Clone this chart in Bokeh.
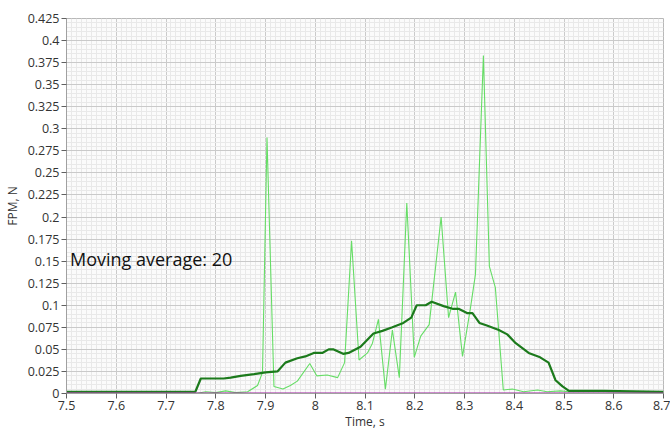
import numpy as np
from bokeh.plotting import figure
from bokeh.models import FixedTicker, CustomJSTickFormatter, Label
from bokeh.embed import file_html
from bokeh.resources import INLINE

# raw force signal (light green)
raw_t = [7.50, 7.76, 7.78, 7.80, 7.82, 7.84, 7.864, 7.884, 7.894, 7.903, 7.917, 7.935, 7.95, 7.964,
         7.989, 8.003, 8.024, 8.045, 8.059, 8.073, 8.088, 8.105, 8.115, 8.127, 8.141, 8.155, 8.169,
         8.184, 8.199, 8.212, 8.229, 8.253, 8.268, 8.282, 8.296, 8.312, 8.322, 8.338, 8.35, 8.362,
         8.378, 8.396, 8.419, 8.447, 8.466, 8.493, 8.51, 8.58, 8.7]
raw_v = [0.0, 0.0, 0.002, 0.001, 0.003, 0.001, 0.002, 0.009, 0.024, 0.29, 0.008, 0.005, 0.009, 0.014,
         0.034, 0.02, 0.021, 0.018, 0.035, 0.173, 0.038, 0.046, 0.057, 0.084, 0.005, 0.072, 0.018,
         0.216, 0.041, 0.065, 0.078, 0.2, 0.086, 0.115, 0.042, 0.097, 0.135, 0.383, 0.144, 0.12,
         0.004, 0.005, 0.002, 0.004, 0.002, 0.003, 0.002, 0.002, 0.001]

# moving average 20 (dark green)
avg_t = [7.50, 7.759, 7.77, 7.816, 7.83, 7.85, 7.877, 7.90, 7.924, 7.94, 7.964, 7.98, 7.997, 8.014,
         8.027, 8.037, 8.056, 8.067, 8.091, 8.117, 8.135, 8.155, 8.177, 8.193, 8.204, 8.222, 8.234,
         8.258, 8.276, 8.288, 8.306, 8.316, 8.33, 8.345, 8.369, 8.386, 8.403, 8.429, 8.452, 8.469,
         8.483, 8.497, 8.51, 8.58, 8.7]
avg_v = [0.002, 0.002, 0.017, 0.017, 0.018, 0.02, 0.022, 0.024, 0.025, 0.035, 0.04, 0.042, 0.046, 0.046,
         0.05, 0.05, 0.045, 0.046, 0.053, 0.068, 0.071, 0.075, 0.08, 0.086, 0.1, 0.1, 0.104,
         0.099, 0.096, 0.096, 0.091, 0.091, 0.08, 0.077, 0.072, 0.067, 0.057, 0.046, 0.041, 0.035,
         0.015, 0.008, 0.003, 0.003, 0.002]

# baseline series (purple)
base_t = [7.5, 8.7]
base_v = [0.0, 0.0]

x_ticks = [7.5, 7.6, 7.7, 7.8, 7.9, 8.0, 8.1, 8.2, 8.3, 8.4, 8.5, 8.6, 8.7]
y_ticks = [0, 0.025, 0.05, 0.075, 0.1, 0.125, 0.15, 0.175, 0.2, 0.225, 0.25, 0.275, 0.3,
           0.325, 0.35, 0.375, 0.4, 0.425]
annotation = "Moving average: 20"
x_title = "Time, s"
y_title = "FPM, N"

FONT = "Open Sans"

p = figure(width=670, height=432, x_range=(7.5, 8.7), y_range=(0, 0.425),
           output_backend="svg", toolbar_location=None,
           min_border_left=66, min_border_right=7, min_border_top=18, min_border_bottom=38,
           background_fill_color="#fbfbfb", border_fill_color="white")
p.outline_line_color = "#b8b8b8"

x_minor = np.round(np.arange(7.5, 8.7001, 0.01), 3).tolist()
y_minor = np.round(np.arange(0, 0.42501, 0.005), 4).tolist()
p.xaxis.ticker = FixedTicker(ticks=x_ticks, minor_ticks=x_minor)
p.yaxis.ticker = FixedTicker(ticks=y_ticks, minor_ticks=y_minor)
p.xaxis.formatter = CustomJSTickFormatter(code="return Number(tick.toFixed(3)).toString();")
p.yaxis.formatter = CustomJSTickFormatter(code="return Number(tick.toFixed(3)).toString();")

for ax in (p.xaxis, p.yaxis):
    ax.axis_line_color = "#a0a0a0"
    ax.major_tick_line_color = "#606060"
    ax.major_tick_out = 5
    ax.major_tick_in = 0
    ax.minor_tick_line_color = None
    ax.major_label_text_font = FONT
    ax.major_label_text_font_size = "12.5px"
    ax.major_label_text_color = "#333333"
    ax.major_label_standoff = 2
    ax.axis_label_text_font = FONT
    ax.axis_label_text_font_size = "12px"
    ax.axis_label_text_font_style = "normal"
    ax.axis_label_text_color = "#333333"

p.yaxis.axis_label = y_title
p.yaxis.axis_label_standoff = 4
p.xaxis.axis_label = x_title
p.xaxis.axis_label_standoff = 0

p.xgrid.grid_line_color = "#cacaca"
p.ygrid.grid_line_color = "#cacaca"
p.xgrid.minor_grid_line_color = "#e9e9e9"
p.ygrid.minor_grid_line_color = "#e9e9e9"

p.line(raw_t, raw_v, line_color="#66dd66", line_width=1.1)
p.line(avg_t, avg_v, line_color="#1c7a1c", line_width=2.2)
p.line(base_t, base_v, line_color="#a01ca0", line_width=2)

p.add_layout(Label(x=7.507, y=0.152, text=annotation, text_baseline="middle",
                   text_font=FONT, text_font_size="18px", text_color="#111111"))

open("out.html", "w").write(file_html(p, INLINE))
